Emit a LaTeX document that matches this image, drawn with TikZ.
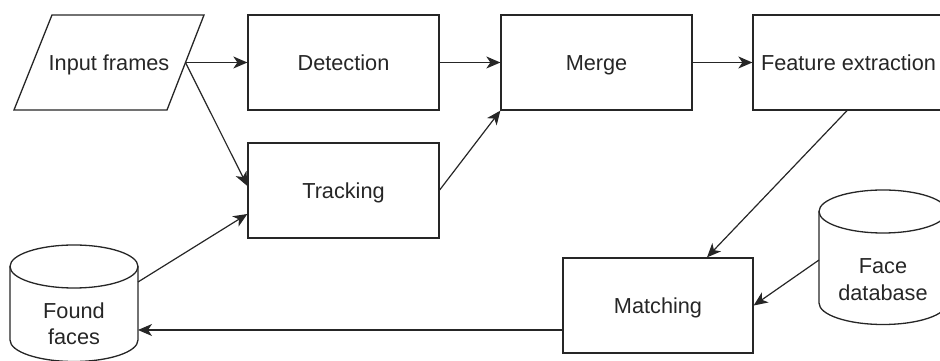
\documentclass[tikz,border=0pt]{standalone}
\usepackage{fontspec}
\setmainfont{Liberation Sans}
\usetikzlibrary{arrows.meta,shapes.geometric}
\definecolor{ink}{HTML}{262626}
\begin{document}
\begin{tikzpicture}[x=1pt,y=1pt,
  every node/.style={font=\fontsize{21.7}{26.5}\selectfont, text=ink},
  box/.style={draw=ink, line width=1.3pt, minimum width=191pt, minimum height=95pt, inner sep=0pt, text height=18pt, text depth=2pt},
  area/.style={minimum width=128pt, inner sep=0pt, align=center},
  conn/.style={draw=ink, line width=1.2pt, -{Stealth[length=14pt,width=12pt,inset=4pt]}},
  outline/.style={draw=ink, line width=1.3pt}]
\useasboundingbox (0,0) rectangle (940,361);
% input parallelogram
\draw[outline] (52,346) -- (204,346) -- (167,251) -- (14,251) -- cycle;
\node[text height=18pt, text depth=2pt] (inp) at (109,298.5) {Input frames};
\coordinate (inpR) at (185.5,298.5);
% boxes
\node[box] (det) at (343.5,298.5) {Detection};
\node[box] (mrg) at (596.5,298.5) {Merge};
\node[box] (fe) at (848.5,298.5) {Feature extraction};
\node[box] (trk) at (343.5,170.5) {Tracking};
\node[box, minimum width=190pt] (mat) at (658,55.5) {Matching};
% found faces cylinder
\draw[outline] (10,94.5) -- (10,21) arc[start angle=180,end angle=360,x radius=64,y radius=21.5] -- (138,94.5);
\draw[outline] (74,94.5) ellipse[x radius=64,y radius=21.5];
\node[area] (ff) at (74,37.5) {Found\\faces};
\coordinate (ffR1) at (138,79);
\coordinate (ffR2) at (138,31);
% face database cylinder
\draw[outline] (819,149.5) -- (819,58) arc[start angle=180,end angle=360,x radius=64,y radius=21.5] -- (947,149.5);
\draw[outline] (883,149.5) ellipse[x radius=64,y radius=21.5];
\node[area] (fd) at (883,81.5) {Face\\database};
\coordinate (fdL) at (819,101);
% connectors
\draw[conn] (inpR) -- (det.west);
\draw[conn] (inpR) -- ([yshift=4.5pt]trk.west);
\draw[conn] (det.east) -- (mrg.west);
\draw[conn] ([yshift=0.5pt]trk.east) -- (mrg.south west);
\draw[conn] (mrg.east) -- (fe.west);
\draw[conn] ([xshift=-1.5pt]fe.south) -- ([xshift=49pt]mat.north);
\draw[conn] (fdL) -- (mat.east);
\draw[conn] (ffR1) -- ([yshift=-23.5pt]trk.west);
\draw[conn] ([yshift=-24.5pt]mat.west) -- (ffR2);
\end{tikzpicture}
\end{document}
